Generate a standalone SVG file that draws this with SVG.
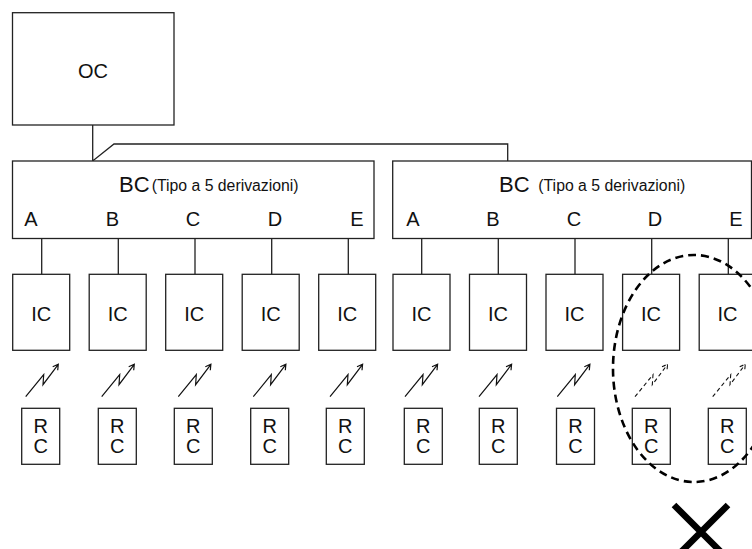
<svg xmlns="http://www.w3.org/2000/svg" width="752" height="549" viewBox="0 0 752 549">
<defs>
<style>
.box{fill:#fff;stroke:#222;stroke-width:1.3}
.ln{fill:none;stroke:#222;stroke-width:1.3}
.t{font-family:"Liberation Sans",Arial,sans-serif;fill:#111;font-size:20px;text-anchor:middle}
.tb{font-family:"Liberation Sans",Arial,sans-serif;fill:#111;font-size:22px}
.ts{font-family:"Liberation Sans",Arial,sans-serif;fill:#111;font-size:15.8px}
.bolt{fill:none;stroke:#111;stroke-width:1.2}
.boltd{fill:none;stroke:#111;stroke-width:1.1;stroke-dasharray:4 3}
</style>
<g id="bolt-shape">
<path d="M0,0 L18,-22 L17.3,-12 L32.6,-32.4 M27,-30 L32.6,-32.4 L32,-26.4"/>
</g>
</defs>

<g id="connectors" class="ln">
<path d="M92.7,125 V161 L114,144 H507.7 V161"/>
<path d="M41.7,238.5 V274.3 M118.3,238.5 V274.3 M195,238.5 V274.3 M271.7,238.5 V274.3 M348.3,238.5 V274.3"/>
<path d="M421.7,238.5 V274.3 M498.3,238.5 V274.3 M575,238.5 V274.3 M651.7,238.5 V274.3 M728.3,238.5 V274.3"/>
<g class="bolt">
<use href="#bolt-shape" x="25.7" y="396.7"/>
<use href="#bolt-shape" x="101.7" y="396.7"/>
<use href="#bolt-shape" x="178.3" y="396.7"/>
<use href="#bolt-shape" x="253.3" y="396.7"/>
<use href="#bolt-shape" x="330" y="396.7"/>
<use href="#bolt-shape" x="405" y="396.7"/>
<use href="#bolt-shape" x="479" y="396.7"/>
<use href="#bolt-shape" x="557.3" y="396.7"/>
</g>
<g class="boltd">
<use href="#bolt-shape" x="635" y="396.7"/>
<use href="#bolt-shape" x="712.7" y="396.7"/>
</g>
</g>

<g id="OC">
<rect class="box" x="12.5" y="12.7" width="161.5" height="112.3"/>
<text class="t" x="93" y="77.5">OC</text>
</g>

<g id="BC1">
<rect class="box" x="12.5" y="161" width="361.5" height="77.5"/>
<text class="tb" x="119" y="192.3">BC</text>
<text class="ts" x="151.7" y="190.5">(Tipo a 5 derivazioni)</text>
<text class="t" x="31" y="225.5">A</text>
<text class="t" x="112.5" y="225.5">B</text>
<text class="t" x="193" y="225.5">C</text>
<text class="t" x="275" y="225.5">D</text>
<text class="t" x="357" y="225.5">E</text>
</g>

<g id="BC2">
<rect class="box" x="392.7" y="161" width="358.8" height="77.5"/>
<text class="tb" x="499" y="192.3">BC</text>
<text class="ts" x="538.3" y="190.5">(Tipo a 5 derivazioni)</text>
<text class="t" x="413" y="225.5">A</text>
<text class="t" x="493" y="225.5">B</text>
<text class="t" x="574" y="225.5">C</text>
<text class="t" x="655" y="225.5">D</text>
<text class="t" x="736" y="225.5">E</text>
</g>

<g id="IC1"><rect class="box" x="12.7" y="274.3" width="57" height="76"/><text class="t" x="41.2" y="320.5">IC</text></g>
<g id="IC2"><rect class="box" x="89.2" y="274.3" width="57" height="76"/><text class="t" x="117.7" y="320.5">IC</text></g>
<g id="IC3"><rect class="box" x="165.7" y="274.3" width="57" height="76"/><text class="t" x="194.2" y="320.5">IC</text></g>
<g id="IC4"><rect class="box" x="242.2" y="274.3" width="57" height="76"/><text class="t" x="270.7" y="320.5">IC</text></g>
<g id="IC5"><rect class="box" x="318.7" y="274.3" width="57" height="76"/><text class="t" x="347.2" y="320.5">IC</text></g>
<g id="IC6"><rect class="box" x="393" y="274.3" width="57" height="76"/><text class="t" x="421.5" y="320.5">IC</text></g>
<g id="IC7"><rect class="box" x="469.5" y="274.3" width="57" height="76"/><text class="t" x="498" y="320.5">IC</text></g>
<g id="IC8"><rect class="box" x="546" y="274.3" width="57" height="76"/><text class="t" x="574.5" y="320.5">IC</text></g>
<g id="IC9"><rect class="box" x="622.6" y="274.3" width="57" height="76"/><text class="t" x="651" y="320.5">IC</text></g>
<g id="IC10"><rect class="box" x="699.2" y="274.3" width="57" height="76"/><text class="t" x="727.5" y="320.5">IC</text></g>

<g id="RC1"><rect class="box" x="21.7" y="408.3" width="38" height="56"/><text class="t" x="40.7" y="432.7">R</text><text class="t" x="40.7" y="453.3">C</text></g>
<g id="RC2"><rect class="box" x="98.3" y="408.3" width="38" height="56"/><text class="t" x="117.3" y="432.7">R</text><text class="t" x="117.3" y="453.3">C</text></g>
<g id="RC3"><rect class="box" x="174.3" y="408.3" width="38" height="56"/><text class="t" x="193.3" y="432.7">R</text><text class="t" x="193.3" y="453.3">C</text></g>
<g id="RC4"><rect class="box" x="250.7" y="408.3" width="38" height="56"/><text class="t" x="269.7" y="432.7">R</text><text class="t" x="269.7" y="453.3">C</text></g>
<g id="RC5"><rect class="box" x="326.3" y="408.3" width="38" height="56"/><text class="t" x="345.3" y="432.7">R</text><text class="t" x="345.3" y="453.3">C</text></g>
<g id="RC6"><rect class="box" x="404.3" y="408.3" width="38" height="56"/><text class="t" x="423.3" y="432.7">R</text><text class="t" x="423.3" y="453.3">C</text></g>
<g id="RC7"><rect class="box" x="479.3" y="408.3" width="38" height="56"/><text class="t" x="498.3" y="432.7">R</text><text class="t" x="498.3" y="453.3">C</text></g>
<g id="RC8"><rect class="box" x="556.5" y="408.3" width="38" height="56"/><text class="t" x="575.5" y="432.7">R</text><text class="t" x="575.5" y="453.3">C</text></g>
<g id="RC9"><rect class="box" x="632.3" y="408.3" width="38" height="56"/><text class="t" x="651.3" y="432.7">R</text><text class="t" x="651.3" y="453.3">C</text></g>
<g id="RC10"><rect class="box" x="708.3" y="408.3" width="38" height="56"/><text class="t" x="727.3" y="432.7">R</text><text class="t" x="727.3" y="453.3">C</text></g>

<g id="excluded">
<ellipse cx="694" cy="368.5" rx="81" ry="113.5" fill="none" stroke="#000" stroke-width="2.6" stroke-dasharray="8 5"/>
<path d="M674,505 L728,559 M728,505 L674,559" fill="none" stroke="#000" stroke-width="6.5"/>
</g>
</svg>
